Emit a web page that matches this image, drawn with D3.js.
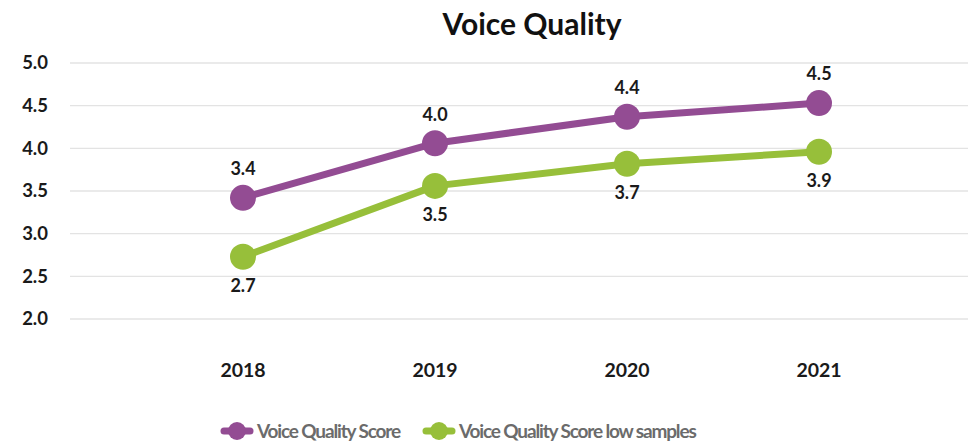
<!DOCTYPE html>
<html><head><meta charset="utf-8">
<script src="https://cdn.jsdelivr.net/npm/d3@7"></script>
<style>body{margin:0;background:#fff}svg{display:block}text{font-family:Lato,"Open Sans",sans-serif}</style>
</head><body><svg id="c" width="975" height="447"></svg>
<script>
const years = ["2018","2019","2020","2021"];
const scoreValues = [3.42, 4.06, 4.37, 4.53];
const lowValues = [2.73, 3.56, 3.82, 3.96];
const scoreLabels = ["3.4","4.0","4.4","4.5"];
const lowLabels = ["2.7","3.5","3.7","3.9"];
const yTicks = [2.0, 2.5, 3.0, 3.5, 4.0, 4.5, 5.0];
const seriesNames = ["Voice Quality Score","Voice Quality Score low samples"];
const colors = ["#934C93","#97BF3A"];

const svg = d3.select("#c");
const x = d3.scalePoint().domain(years).range([243, 819]);
const y = d3.scaleLinear().domain([2, 5]).range([319, 63]);

svg.append("text").attr("x", 532).attr("y", 24).attr("dy","0.35em").attr("text-anchor","middle")
  .attr("font-size", 30).attr("font-weight","bold").attr("fill","#111").text("Voice Quality");

const g = svg.append("g");
g.selectAll("line.grid").data(yTicks).enter().append("line")
  .attr("x1", 70).attr("x2", 968).attr("y1", d=>y(d)).attr("y2", d=>y(d))
  .attr("stroke","#e3e3e3").attr("stroke-width",1.3);
g.selectAll("text.yt").data(yTicks).enter().append("text")
  .attr("x", 48).attr("y", d=>y(d)).attr("dy","0.35em").attr("text-anchor","end")
  .attr("font-size",18.5).attr("font-weight","bold").attr("fill","#1a1a1a").text(d=>d.toFixed(1));
g.selectAll("text.xt").data(years).enter().append("text")
  .attr("x", d=>x(d)).attr("y", 370).attr("dy","0.35em").attr("text-anchor","middle")
  .attr("font-size",19.5).attr("font-weight","bold").attr("fill","#1a1a1a").text(d=>d);

const series = [
  {vals: scoreValues, labels: scoreLabels, color: colors[0], above: true},
  {vals: lowValues, labels: lowLabels, color: colors[1], above: false}
];
const line = d3.line().x((d,i)=>x(years[i])).y(d=>y(d));
series.forEach(s => {
  g.append("path").datum(s.vals).attr("d", line).attr("fill","none")
    .attr("stroke", s.color).attr("stroke-width", 7).attr("stroke-linejoin","round");
  g.selectAll(null).data(s.vals).enter().append("circle")
    .attr("cx",(d,i)=>x(years[i])).attr("cy", d=>y(d)).attr("r", 13).attr("fill", s.color);
  g.selectAll(null).data(s.vals).enter().append("text")
    .attr("x",(d,i)=>x(years[i])).attr("y", d=>y(d) + (s.above ? -29 : 29)).attr("dy","0.35em")
    .attr("text-anchor","middle").attr("font-size",18).attr("font-weight","bold").attr("fill","#1a1a1a")
    .text((d,i)=>s.labels[i]);
});

const legX = [222, 424];
seriesNames.forEach((n,i) => {
  const lg = svg.append("g");
  lg.append("line").attr("x1", legX[i]+2).attr("x2", legX[i]+28).attr("y1",431).attr("y2",431)
    .attr("stroke", colors[i]).attr("stroke-width",7).attr("stroke-linecap","round");
  lg.append("circle").attr("cx", legX[i]+15).attr("cy",431).attr("r",9).attr("fill",colors[i]);
  lg.append("text").attr("x", legX[i]+35).attr("y",431).attr("dy","0.35em")
    .attr("font-size",19).attr("font-weight","bold").attr("letter-spacing", -1.15).attr("fill","#6b6b6b").text(n);
});
</script></body></html>
